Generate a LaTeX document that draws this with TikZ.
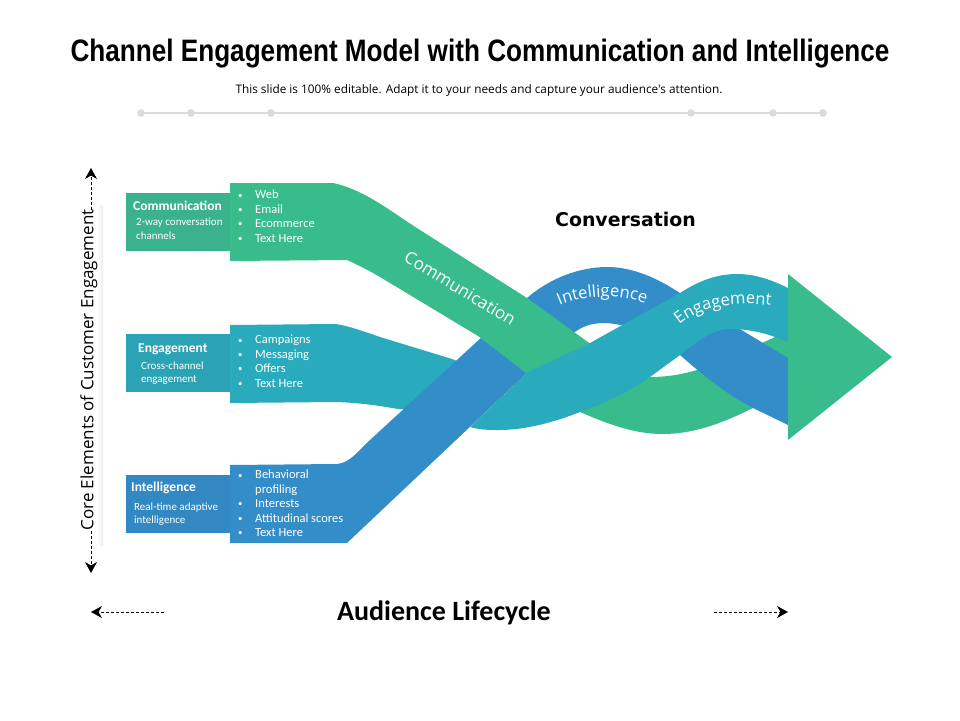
\documentclass[tikz,border=0pt]{standalone}
\usepackage{fontspec}
\usepackage{tikz}
\usetikzlibrary{arrows.meta,decorations.text}
\setmainfont{Carlito}
\newfontfamily\titlefont{Liberation Sans}
\newfontfamily\ribbonfont{Open Sans}
\newfontfamily\convfont{DejaVu Sans}
\definecolor{bandgreen}{HTML}{38BC8C}
\definecolor{bandteal}{HTML}{2AABBD}
\definecolor{bandblue}{HTML}{338DC9}
\definecolor{headgreen}{HTML}{3AB28B}
\definecolor{headteal}{HTML}{2BA2B5}
\definecolor{headblue}{HTML}{3288C2}
\definecolor{rulegray}{HTML}{DADADA}
\newcommand{\bul}{\makebox[17pt][l]{\raisebox{.8pt}{\scalebox{.7}{\textbullet}}}}
\tikzset{
	headbox/.style={anchor=west,inner sep=0pt,align=left,text=white,font=\fontsize{13.5}{16}\selectfont\bfseries},
	subbox/.style={anchor=west,inner sep=0pt,align=left,text=white,font=\fontsize{11}{13.6}\selectfont},
	listbox/.style={anchor=north west,inner sep=0pt,align=left,text=white,font=\fontsize{12.5}{14.4}\selectfont},
	dasharrow/.style={densely dashed,line width=.6pt,-{Stealth[length=11pt,width=12pt,inset=3.5pt]}},
	ribbontext/.style={decorate,decoration={text along path,text align=center,text={#1}}}
}
\begin{document}
\begin{tikzpicture}[x=1pt,y=-1pt]
	\useasboundingbox (0,0) rectangle (960,720);
	% title block
	\node[font=\titlefont\bfseries\fontsize{31}{34}\selectfont,xscale=.843,transform shape,inner sep=0pt] (title) at (480,53.5) {Channel Engagement Model with Communication and Intelligence};
	\node[font=\ribbonfont\fontsize{11.8}{14}\selectfont,inner sep=0pt] (subtitle) at (479,90) {This slide is 100\% editable. Adapt it to your needs and capture your audience's attention.};
	\draw[rulegray,line width=1.6pt] (141,113) -- (823,113);
	\foreach \xdot in {141,191,271,691,773,823}
		\fill[rulegray] (\xdot,113) circle (3.8);
	% soft shadows
	\shade[left color=white,right color=black!8,draw=none] (98,205) rectangle (103,545);
	\shade[left color=white,middle color=black!7,right color=white,draw=none] (190,630) rectangle (680,632);
	% left boxes
	\fill[headgreen] (126,193) rectangle (232,251);
	\fill[headteal] (126,334) rectangle (232,392);
	\fill[headblue] (126,475) rectangle (232,533);
	% teal, part under the blue
	\fill[bandteal] (230,325) -- (335,324) .. controls (345,325) and (360,330) .. (380,337) -- (452,359) -- (480,370) -- (480,412) -- (398,409) .. controls (375,405) and (360,403) .. (337,402) -- (230,403) -- cycle;
	% green, part after the crossing
	\fill[bandgreen] (570,400) -- (580,412) .. controls (610,425) and (635,434) .. (663,434) .. controls (695,434) and (725,422) .. (753,408) -- (788,385) -- (788,330) -- (773,338) -- (762,343) .. controls (740,355) and (720,367) .. (697,370) .. controls (680,375) and (665,377) .. (650,377) -- (600,380) -- cycle;
	% blue, whole band
	\fill[bandblue] (230,465) -- (337,464) .. controls (350,463) and (358,451) .. (370,440) -- (483,336) -- (527,298) .. controls (550,278) and (580,267) .. (607,267) .. controls (635,267) and (660,280) .. (680,293) -- (788,358) -- (788,425) -- (753,408) .. controls (725,393) and (705,377) .. (680,355) .. controls (660,342) and (640,325) .. (605,323) .. controls (590,323) and (580,327) .. (570,336) -- (528,372) -- (347,543) -- (230,543) -- cycle;
	% green, part before the crossing
	\fill[bandgreen] (230,183) -- (333,183) .. controls (365,190) and (390,211) .. (420,230) -- (527,298) -- (592,345) -- (530,376) -- (478,336) -- (380,277) .. controls (368,270) and (358,265) .. (347,260) -- (230,261) -- cycle;
	% teal, part over the others
	\fill[bandteal] (528,372) -- (590,343) -- (680,293) .. controls (700,280) and (718,274) .. (737,274) .. controls (755,274) and (772,280) .. (788,288) -- (788,343) .. controls (772,334) and (750,329) .. (730,329) .. controls (712,329) and (697,342) .. (680,355) -- (650,377) .. controls (628,393) and (605,403) .. (580,412) .. controls (555,422) and (525,430) .. (500,430) .. controls (490,430) and (480,430) .. (470,427) -- cycle;
	% arrow head
	\fill[bandgreen] (788,274) -- (892,357) -- (788,440) -- cycle;
	% ribbon labels
	\path[ribbontext={|\ribbonfont\fontsize{17}{18}\selectfont\color{white}|Communication}] (400,259) -- (514,328);
	\path[ribbontext={|\ribbonfont\fontsize{16.5}{18}\selectfont\color{white}|Intelligence}] (557,307) .. controls (575,297) and (620,291) .. (648,305);
	\path[ribbontext={|\ribbonfont\fontsize{16.5}{18}\selectfont\color{white}|Engagement}] (677,327) .. controls (697,308) and (732,300) .. (774,306);
	% box texts
	\node[headbox] (commhead) at (133,206) {Communication};
	\node[subbox] (commsub) at (136,229) {2-way conversation\\channels};
	\node[headbox] (enghead) at (138,349) {Engagement};
	\node[subbox] (engsub) at (141,373) {Cross-channel\\engagement};
	\node[headbox] (inthead) at (131,488) {Intelligence};
	\node[subbox] (intsub) at (134,514) {Real-time adaptive\\intelligence};
	% lists
	\node[listbox] (commlist) at (238,190) {\bul Web\\\bul Email\\\bul Ecommerce\\\bul Text Here};
	\node[listbox] (englist) at (238,335) {\bul Campaigns\\\bul Messaging\\\bul Offers\\\bul Text Here};
	\node[listbox] (intlist) at (238,470) {\bul Behavioral\\\hspace{17pt}profiling\\\bul Interests\\\bul Attitudinal scores\\\bul Text Here};
	% outer texts and arrows
	\node[font=\convfont\bfseries\fontsize{18.9}{22}\selectfont,inner sep=0pt] (conversation) at (625.5,219) {Conversation};
	\node[font=\ribbonfont\fontsize{17}{20}\selectfont,rotate=90,inner sep=0pt] (core) at (89,370) {Core Elements of Customer Engagement};
	\node[font=\bfseries\fontsize{28}{30}\selectfont,inner sep=0pt] (lifecycle) at (444,613) {Audience Lifecycle};
	\coordinate (coretop) at (91,168);
	\coordinate (corebot) at (91,573);
	\coordinate (coretopin) at (91,210);
	\coordinate (corebotin) at (91,531);
	\coordinate (lifeleftin) at (164,612);
	\coordinate (lifeleft) at (91,612);
	\coordinate (liferightin) at (714,612);
	\coordinate (liferight) at (788,612);
	\draw[dasharrow] (coretopin) -- (coretop);
	\draw[dasharrow] (corebotin) -- (corebot);
	\draw[dasharrow] (lifeleftin) -- (lifeleft);
	\draw[dasharrow] (liferightin) -- (liferight);
\end{tikzpicture}
\end{document}
